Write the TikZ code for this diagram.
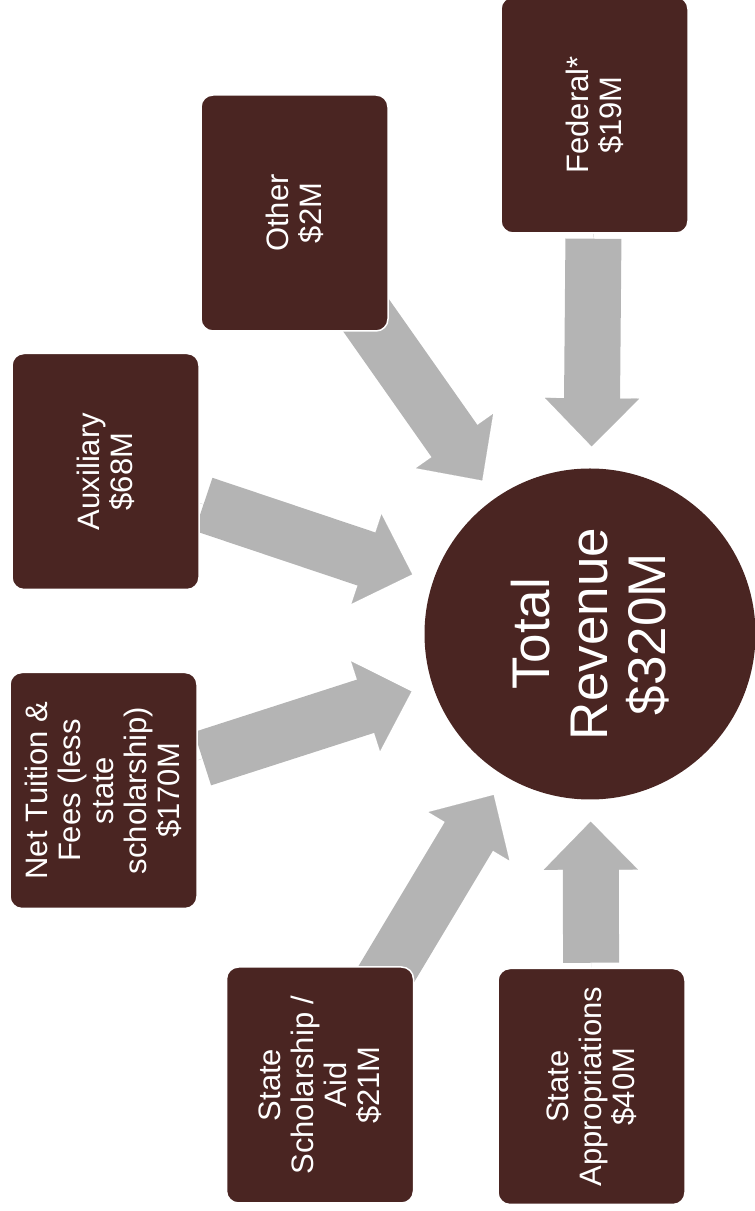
\documentclass[tikz,border=0pt]{standalone}
\usepackage{fontspec}
\setmainfont{Liberation Sans}
\usetikzlibrary{arrows.meta}
\definecolor{boxbrown}{RGB}{74,37,34}
\definecolor{arrowgray}{RGB}{180,180,180}
\pgfdeclarelayer{bg}
\pgfsetlayers{bg,main}
\tikzset{
  srcbox/.style={draw=white, line width=1.5pt, fill=boxbrown, rounded corners=12pt,
    rotate=90, minimum width=236pt, minimum height=187pt, inner sep=0pt,
    text=white, align=center, font=\fontsize{31}{33}\selectfont},
  totbox/.style={circle, fill=boxbrown, minimum size=331pt, inner sep=0pt,
    rotate=90, text=white, align=center, font=\fontsize{53}{58}\selectfont},
  shaft/.style={draw=arrowgray, line width=56pt, shorten >=69pt},
  head/.style={draw=arrowgray, line width=0.1pt, shorten >=22pt,
    -{Triangle[width=94pt,length=48pt]}}
}
\begin{document}
\begin{tikzpicture}[x=1pt,y=1pt]
\useasboundingbox (0,0) rectangle (755,1211);
\node[totbox] (tot) at (590,577) {Total\\Revenue\\\$320M};
\node[srcbox] (fed) at (594.5,1096) {Federal*\\\$19M};
\node[srcbox] (oth) at (294.5,998) {Other\\\$2M};
\node[srcbox] (aux) at (105.5,739.5) {Auxiliary\\\$68M};
\node[srcbox] (net) at (103.5,420.5) {Net Tuition \&\\Fees (less\\state\\scholarship)\\\$170M};
\node[srcbox] (ssa) at (320,126) {State\\Scholarship /\\Aid\\\$21M};
\node[srcbox] (sap) at (591.5,124.5) {State\\Appropriations\\\$40M};
\begin{pgfonlayer}{bg}
\draw[shaft, shorten <=5pt] (fed) -- (tot);
\draw[head] (fed) -- (tot);
\draw[shaft, shorten <=-20pt] (oth) -- (tot);
\draw[head] (oth) -- (tot);
\draw[shaft, shorten <=4pt] (aux) -- (tot);
\draw[head] (aux) -- (tot);
\draw[shaft, shorten <=5pt] (net) -- (tot);
\draw[head] (net) -- (tot);
\draw[shaft, shorten <=-20pt] (ssa) -- (tot);
\draw[head] (ssa) -- (tot);
\draw[shaft, shorten <=5pt] (sap) -- (tot);
\draw[head] (sap) -- (tot);
\end{pgfonlayer}
\end{tikzpicture}
\end{document}
